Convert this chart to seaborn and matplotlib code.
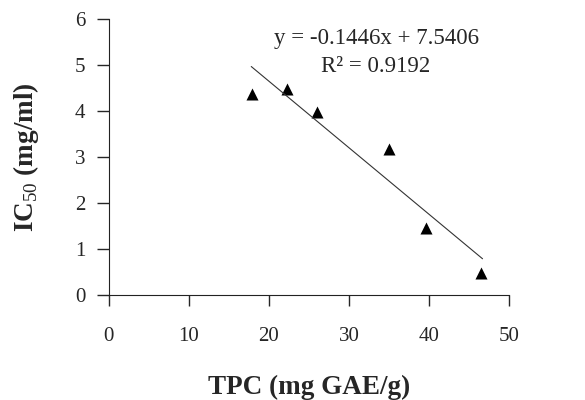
import numpy as np
import pandas as pd
import matplotlib
matplotlib.use("Agg")
import matplotlib.pyplot as plt
import seaborn as sns

# valores
tpc = [17.9, 22.3, 26.0, 35.0, 39.6, 46.5]
ic50 = [4.37, 4.47, 3.97, 3.17, 1.46, 0.47]
slope = -0.1446
intercept = 7.5406
r2 = 0.9192
x_ticks = [0, 10, 20, 30, 40, 50]
y_ticks = [0, 1, 2, 3, 4, 5, 6]

sns.set_style("ticks")
plt.rcParams['font.family'] = ['Liberation Serif', 'DejaVu Serif']
plt.rcParams['mathtext.fontset'] = 'custom'
plt.rcParams['mathtext.rm'] = 'Liberation Serif'
plt.rcParams['mathtext.bf'] = 'Liberation Serif:bold'

data = pd.DataFrame({"TPC": tpc, "IC50": ic50})

fig = plt.figure(figsize=(5.85, 4.0), dpi=100)
ax = fig.add_axes([0.186, 0.2625, 0.684, 0.69])

sns.scatterplot(data=data, x="TPC", y="IC50", marker="^", s=75, color="black",
                edgecolor="black", linewidth=0, ax=ax)

# linea de tendencia
xl = np.array([min(tpc) - 0.1, max(tpc) + 0.2])
ax.plot(xl, slope * xl + intercept, color="#333333", linewidth=0.8)

ax.set_xlim(0, 50)
ax.set_ylim(0, 6)
ax.set_xticks(x_ticks)
ax.set_yticks(y_ticks)
ax.tick_params(axis="x", direction="out", length=8, width=1, pad=15, labelsize=15)
ax.tick_params(axis="y", direction="out", length=9, width=1, pad=8, labelsize=15)
sns.despine(ax=ax)
for s in ["left", "bottom"]:
    ax.spines[s].set_color("#222222")

ax.text(33.4, 5.58, f"y = {slope}x + {intercept}", ha="center", va="center", fontsize=16.5)
ax.text(33.4, 4.96, f"R² = {r2}", ha="center", va="center", fontsize=16.5)

ax.set_xlabel("TPC (mg GAE/g)", fontsize=19.5, fontweight="bold", labelpad=21)
ax.set_ylabel(r"IC$_{50}$ (mg/ml)", fontsize=19.5, fontweight="bold", labelpad=24)

fig.savefig("out.png", dpi=100)
